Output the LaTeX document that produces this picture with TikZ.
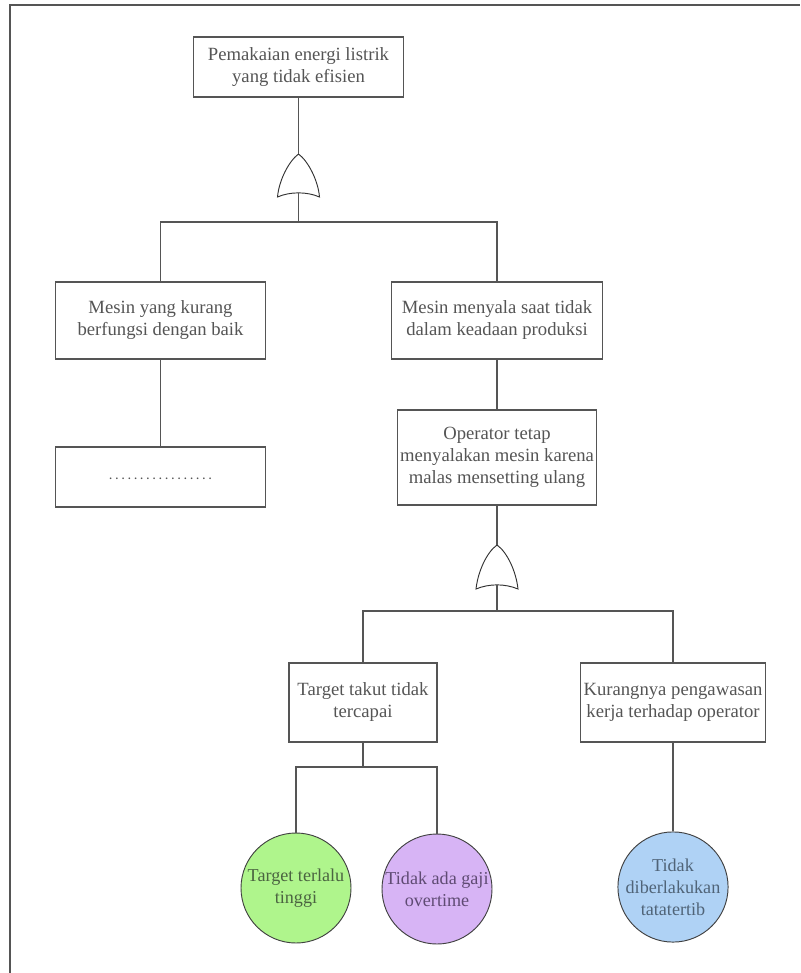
\documentclass[tikz,border=0pt]{standalone}
\usepackage{fontspec}
\setmainfont{Liberation Serif}

\definecolor{teks}{RGB}{85,85,85}
\definecolor{garis}{RGB}{85,85,85}
\definecolor{hijau}{RGB}{175,245,140}
\definecolor{ungu}{RGB}{215,180,245}
\definecolor{biru}{RGB}{175,210,245}

\begin{document}
\begin{tikzpicture}[x=0.75pt, y=-0.75pt,
	kotak/.style={rectangle, draw=garis, line width=0.9pt, fill=white, text=teks, align=center, inner sep=2pt, font=\fontsize{14}{16.5}\selectfont},
	dasar/.style={circle, draw=black!75, line width=0.7pt, minimum size=82.5pt, inner sep=0pt, align=center, font=\fontsize{13.6}{16.5}\selectfont},
	gerbang/.style={draw=black!80, line width=0.7pt, fill=white},
	hubung/.style={draw=garis, line width=0.9pt}]
	\useasboundingbox (0,0) rectangle (800,973);
	% Bingkai
	\draw[draw=garis, line width=1.1pt] (10,973) -- (10,5) -- (800,5);
	
	% Kotak kejadian
	\node[kotak, minimum width=158pt, minimum height=45pt] (atas) at (298.5,67) {Pemakaian energi listrik\\yang tidak efisien};
	\node[kotak, minimum width=158pt, minimum height=57.75pt] (mesin1) at (160.5,320.5) {Mesin yang kurang\\berfungsi dengan baik};
	\node[kotak, minimum width=158pt, minimum height=57.75pt] (mesin2) at (497,320.5) {Mesin menyala saat tidak\\dalam keadaan produksi};
	\node[kotak, minimum width=158pt, minimum height=45pt, font=\fontsize{8}{8}\bfseries\selectfont] (kosong) at (160.5,477) {\raisebox{-3.5pt}{. . . . . . . . . . . . . . . . .}};
	\node[kotak, minimum width=149.25pt, minimum height=71.25pt] (operator) at (497,457.5) {Operator tetap\\menyalakan mesin karena\\malas mensetting ulang};
	\node[kotak, minimum width=111pt, minimum height=59.25pt] (target) at (363,702.5) {Target takut tidak\\tercapai};
	\node[kotak, minimum width=138.75pt, minimum height=59.25pt] (awas) at (673,702.5) {Kurangnya pengawasan\\kerja terhadap operator};
	
	% Kejadian dasar
	\node[dasar, fill=hijau, text={rgb,255:red,75;green,100;blue,65}] (tinggi) at (296,888) {Target terlalu\\tinggi};
	\node[dasar, fill=ungu, text={rgb,255:red,95;green,75;blue,115}] (gaji) at (437,889) {Tidak ada gaji\\overtime};
	\node[dasar, fill=biru, text={rgb,255:red,80;green,100;blue,120}] (tertib) at (673,887) {Tidak\\diberlakukan\\tatatertib};
	
	% Titik bantu
	\coordinate (g1a) at (298.5,154);
	\coordinate (g1b) at (298.5,193);
	\coordinate (j1) at (298.5,222);
	\coordinate (g2a) at (497,545);
	\coordinate (g2b) at (497,585);
	\coordinate (j2) at (497,611);
	\coordinate (j3) at (363,767);
	
	% Gerbang OR
	\draw[gerbang] (g1a) .. controls (289,161) and (279,180) .. (277.5,197) .. controls (290,191.5) and (307,191.5) .. (319.5,197) .. controls (318,180) and (308,161) .. (g1a) -- cycle;
	\draw[gerbang] (g2a) .. controls (487,552) and (478,571) .. (476,589) .. controls (489,583.5) and (505,583.5) .. (518,589) .. controls (516,571) and (507,552) .. (g2a) -- cycle;
	
	% Garis
	\draw[hubung] (atas) -- (g1a);
	\draw[hubung] (g1b) -- (j1);
	\draw[hubung] (mesin1) |- (j1) -| (mesin2);
	\draw[hubung] (mesin1) -- (kosong);
	\draw[hubung] (mesin2) -- (operator);
	\draw[hubung] (operator) -- (g2a);
	\draw[hubung] (g2b) -- (j2);
	\draw[hubung] (target) |- (j2) -| (awas);
	\draw[hubung] (target) -- (j3);
	\draw[hubung] (tinggi) |- (j3) -| (gaji);
	\draw[hubung] (awas) -- (tertib);
\end{tikzpicture}
\end{document}
